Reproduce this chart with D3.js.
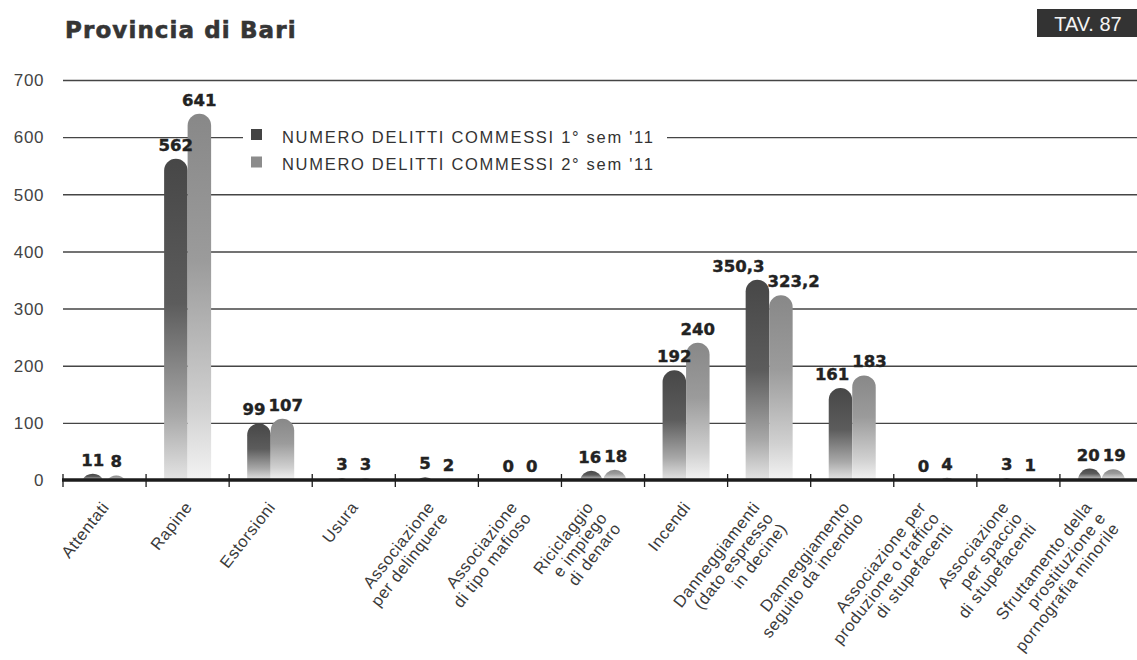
<!DOCTYPE html>
<html>
<head>
<meta charset="utf-8">
<script src="https://cdn.jsdelivr.net/npm/d3@7"></script>
<style>
  html, body { margin: 0; padding: 0; background: #ffffff; }
  svg { display: block; }
</style>
</head>
<body>
<svg id="chart" width="1137" height="660"></svg>
<script>
const title = "Provincia di Bari";
const badge = "TAV. 87";
const categories = [
  "Attentati",
  "Rapine",
  "Estorsioni",
  "Usura",
  "Associazione\nper delinquere",
  "Associazione\ndi tipo mafioso",
  "Riciclaggio\ne impiego\ndi denaro",
  "Incendi",
  "Danneggiamenti\n(dato espresso\nin decine)",
  "Danneggiamento\nseguito da incendio",
  "Associazione per\nproduzione o traffico\ndi stupefacenti",
  "Associazione\nper spaccio\ndi stupefacenti",
  "Sfruttamento della\nprostituzione e\npornografia minorile"
];
const seriesNames = ["NUMERO DELITTI COMMESSI 1° sem '11", "NUMERO DELITTI COMMESSI 2° sem '11"];
const sem1 = [11, 562, 99, 3, 5, 0, 16, 192, 350.3, 161, 0, 3, 20];
const sem2 = [8, 641, 107, 3, 2, 0, 18, 240, 323.2, 183, 4, 1, 19];
const yTicks = [0, 100, 200, 300, 400, 500, 600, 700];

const svg = d3.select("#chart");
const W = 1137, H = 660;
const plotLeft = 63, plotRight = 1143, y0px = 480, yTopPx = 80;

svg.append("rect").attr("width", W).attr("height", H).attr("fill", "#ffffff");

// gradients
const defs = svg.append("defs");
const gradDefs = [
  { id: "g1", stops: [[0, "#474747"], [0.45, "#5c5c5c"], [0.8, "#a8a8a8"], [1, "#e4e4e4"]] },
  { id: "g2", stops: [[0, "#888888"], [0.4, "#9b9b9b"], [0.8, "#d0d0d0"], [1, "#f3f3f3"]] }
];
gradDefs.forEach(g => {
  const lg = defs.append("linearGradient").attr("id", g.id)
    .attr("x1", 0).attr("y1", 0).attr("x2", 0).attr("y2", 1);
  g.stops.forEach(s => lg.append("stop").attr("offset", s[0]).attr("stop-color", s[1]));
});

const y = d3.scaleLinear().domain([0, 700]).range([y0px, yTopPx]);
const x = d3.scaleBand().domain(d3.range(categories.length)).range([plotLeft, plotRight]).padding(0);
const bw = 23.5;
const x1 = d3.scaleBand().domain([0, 1]).range([x.bandwidth() / 2 - bw, x.bandwidth() / 2 + bw]).padding(0);

// title
svg.append("text").attr("x", 65).attr("y", 38)
  .attr("font-family", "DejaVu Sans").attr("font-weight", "bold")
  .attr("font-size", 23).attr("letter-spacing", 1.1).attr("fill", "#353535")
  .attr("stroke", "#353535").attr("stroke-width", 0.6)
  .text(title);

// badge
svg.append("rect").attr("x", 1037).attr("y", 9).attr("width", 100).attr("height", 28).attr("fill", "#333333");
svg.append("text").attr("x", 1088).attr("y", 30.5).attr("text-anchor", "middle")
  .attr("font-family", "Liberation Sans").attr("font-size", 20).attr("fill", "#f4f4f4")
  .text(badge);

// y axis with gridlines
const yAxis = d3.axisLeft(y).tickValues(yTicks.filter(t => t > 0)).tickSizeInner(-(W - plotLeft)).tickSizeOuter(0).tickPadding(19);
const gy = svg.append("g").attr("transform", `translate(${plotLeft},0)`).call(yAxis);
gy.select(".domain").remove();
gy.selectAll(".tick line").attr("stroke", "#454545").attr("stroke-width", 1.4);
gy.selectAll(".tick text").attr("font-family", "Liberation Sans").attr("font-size", 17)
  .attr("letter-spacing", 0.6).attr("fill", "#444").attr("dy", "0.34em");
// zero label
svg.append("text").attr("x", plotLeft - 19).attr("y", y(0)).attr("dy", "0.34em")
  .attr("text-anchor", "end").attr("font-family", "Liberation Sans").attr("font-size", 17)
  .attr("letter-spacing", 0.6).attr("fill", "#444").text(yTicks[0]);

// legend
const lg = svg.append("g");
lg.append("rect").attr("x", 243).attr("y", 122).attr("width", 424).attr("height", 52).attr("fill", "#ffffff");
seriesNames.forEach((name, i) => {
  lg.append("rect").attr("x", 251).attr("y", 129 + i * 27.5).attr("width", 11).attr("height", 11)
    .attr("fill", i === 0 ? "#444444" : "#8c8c8c");
  lg.append("text").attr("x", 282).attr("y", 143 + i * 27)
    .attr("font-family", "Liberation Sans").attr("font-size", 16.5).attr("letter-spacing", 1.7)
    .attr("fill", "#333").text(name);
});

// bars
function barPath(x0, w, h, base) {
  const r = w / 2;
  if (h <= 0) return "";
  if (h >= r) {
    return `M${x0},${base} V${base - h + r} A${r},${r} 0 0 1 ${x0 + w},${base - h + r} V${base} Z`;
  }
  const cx = x0 + r;
  const c = Math.sqrt(r * r - (r - h) * (r - h));
  return `M${cx - c},${base} A${r},${r} 0 0 1 ${cx + c},${base} Z`;
}

const groups = svg.append("g").selectAll("g.cat")
  .data(categories.map((c, i) => ({ i, vals: [sem1[i], sem2[i]] })))
  .join("g").attr("class", "cat").attr("transform", d => `translate(${x(d.i)},0)`);

groups.selectAll("path.bar").data(d => d.vals.map((v, s) => ({ v, s })))
  .join("path").attr("class", "bar")
  .attr("d", d => barPath(x1(d.s), x1.bandwidth(), y0px - y(d.v), y0px))
  .attr("fill", d => `url(#g${d.s + 1})`);

const fmt = v => String(v).replace(".", ",");
const labelFont = 16.5;
groups.each(function (d) {
  const g = d3.select(this);
  const texts = d.vals.map((v, s) => g.append("text")
    .attr("x", x1(s) + x1.bandwidth() / 2)
    .attr("y", y(v) - 8)
    .attr("text-anchor", "middle")
    .attr("font-family", "DejaVu Sans").attr("font-weight", "bold")
    .attr("font-size", labelFont).attr("fill", "#222")
    .attr("stroke", "#222").attr("stroke-width", 0.4)
    .text(fmt(v)));
  const b0 = texts[0].node().getBBox(), b1 = texts[1].node().getBBox();
  const overlap = (b0.x + b0.width + 3) - b1.x;
  const vy = Math.abs((y(d.vals[0])) - (y(d.vals[1])));
  if (overlap > 0 && vy < labelFont + 1) {
    texts[0].attr("x", +texts[0].attr("x") - overlap * 0.6);
    texts[1].attr("x", +texts[1].attr("x") + overlap * 0.4);
  }
});

// zero axis line and ticks
svg.append("line").attr("x1", plotLeft - 1).attr("x2", W).attr("y1", y(0)).attr("y2", y(0))
  .attr("stroke", "#1c1c1c").attr("stroke-width", 3.5);
const bounds = categories.map((c, i) => x(i)).concat([x(categories.length - 1) + x.bandwidth()]);
svg.append("g").selectAll("line").data(bounds).join("line")
  .attr("x1", d => d).attr("x2", d => d).attr("y1", y(0) - 6).attr("y2", y(0) + 7)
  .attr("stroke", "#1c1c1c").attr("stroke-width", 1.3);

// x labels
const xl = svg.append("g");
categories.forEach((c, i) => {
  const lines = c.split("\n");
  const n = lines.length;
  const cx = x(i) + x.bandwidth() / 2 - (n - 1) * 7 - 4;
  const t = xl.append("text")
    .attr("transform", `translate(${cx},500) rotate(-52)`)
    .attr("text-anchor", "end")
    .attr("font-family", "Liberation Sans").attr("font-size", 16.5)
    .attr("letter-spacing", 0.6)
    .attr("fill", "#3a3a3a");
  lines.forEach((ln, k) => {
    t.append("tspan").attr("x", 0).attr("y", 0).attr("dy", (0.72 + k * 1.05) + "em").text(ln);
  });
});
</script>
</body>
</html>
